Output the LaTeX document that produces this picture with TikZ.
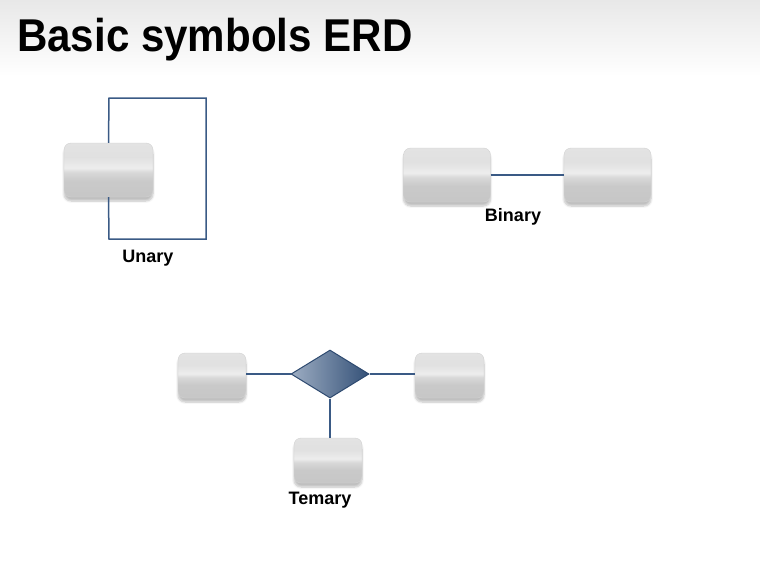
\documentclass[tikz,border=0pt]{standalone}
\usepackage{fontspec}
\setmainfont{Liberation Sans}
\usetikzlibrary{shapes.geometric,shadows.blur}
\definecolor{linkblue}{HTML}{3A5A85}
\definecolor{dborder}{HTML}{2E4A70}
\pgfdeclareverticalshading{entshade}{100bp}{
  color(0bp)=(black!24);
  color(40bp)=(black!21);
  color(48bp)=(black!15);
  color(52bp)=(black!7);
  color(62bp)=(black!12);
  color(100bp)=(black!9)}
\tikzset{
  entity/.style={rectangle, rounded corners=7pt, shading=entshade, draw=black!18, line width=0.4pt,
    blur shadow={shadow xshift=0pt, shadow yshift=-4pt, shadow blur steps=6, shadow opacity=25}},
  rel/.style={diamond, aspect=1.6, inner sep=0pt, minimum width=78pt, minimum height=48pt,
    shading=axis, shading angle=135, left color=linkblue!50!white, right color=linkblue!90!black,
    draw=dborder, line width=1pt},
  link/.style={draw=linkblue, line width=1.5pt},
  lbl/.style={font=\bfseries\fontsize{18}{20}\selectfont, inner sep=0pt}
}
\begin{document}
\begin{tikzpicture}[x=1pt,y=-1pt]
\useasboundingbox (0,0) rectangle (760,570);
\fill[top color=black!9, bottom color=white] (0,0) rectangle (760,76);
\node[anchor=base west, inner sep=0pt, font=\bfseries\fontsize{46}{50}\selectfont, xscale=0.915, transform shape] (title) at (17,51) {Basic symbols ERD};

% Unary
\node[entity, minimum width=89pt, minimum height=54pt] (u) at (108.5,170) {};
\coordinate (u1) at (109,98);
\coordinate (u2) at (206,98);
\coordinate (u3) at (206,239);
\coordinate (u4) at (109,239);
\draw[link] (u.north) -- (u1) -- (u2) -- (u3) -- (u4) -- (u.south);
\node[lbl] (ul) at (148,258) {Unary};

% Binary
\node[entity, minimum width=87pt, minimum height=54pt] (b1) at (447,175) {};
\node[entity, minimum width=87pt, minimum height=54pt] (b2) at (607.5,175) {};
\draw[link] (b1.east) -- (b2.west);
\node[lbl] (bl) at (513,217) {Binary};

% Ternary
\node[rel] (d) at (330,374) {};
\node[entity, minimum width=68pt, minimum height=45pt] (t1) at (212,375.5) {};
\node[entity, minimum width=69pt, minimum height=45pt] (t2) at (449.5,375.5) {};
\node[entity, minimum width=68pt, minimum height=45pt] (t3) at (328,460.5) {};
\draw[link] (t1.east |- d.west) -- (d.west);
\draw[link] (d.east) -- (t2.west |- d.east);
\draw[link] (d.south) -- (d.south |- t3.north);
\node[lbl] (tl) at (320,500) {Temary};
\end{tikzpicture}
\end{document}
